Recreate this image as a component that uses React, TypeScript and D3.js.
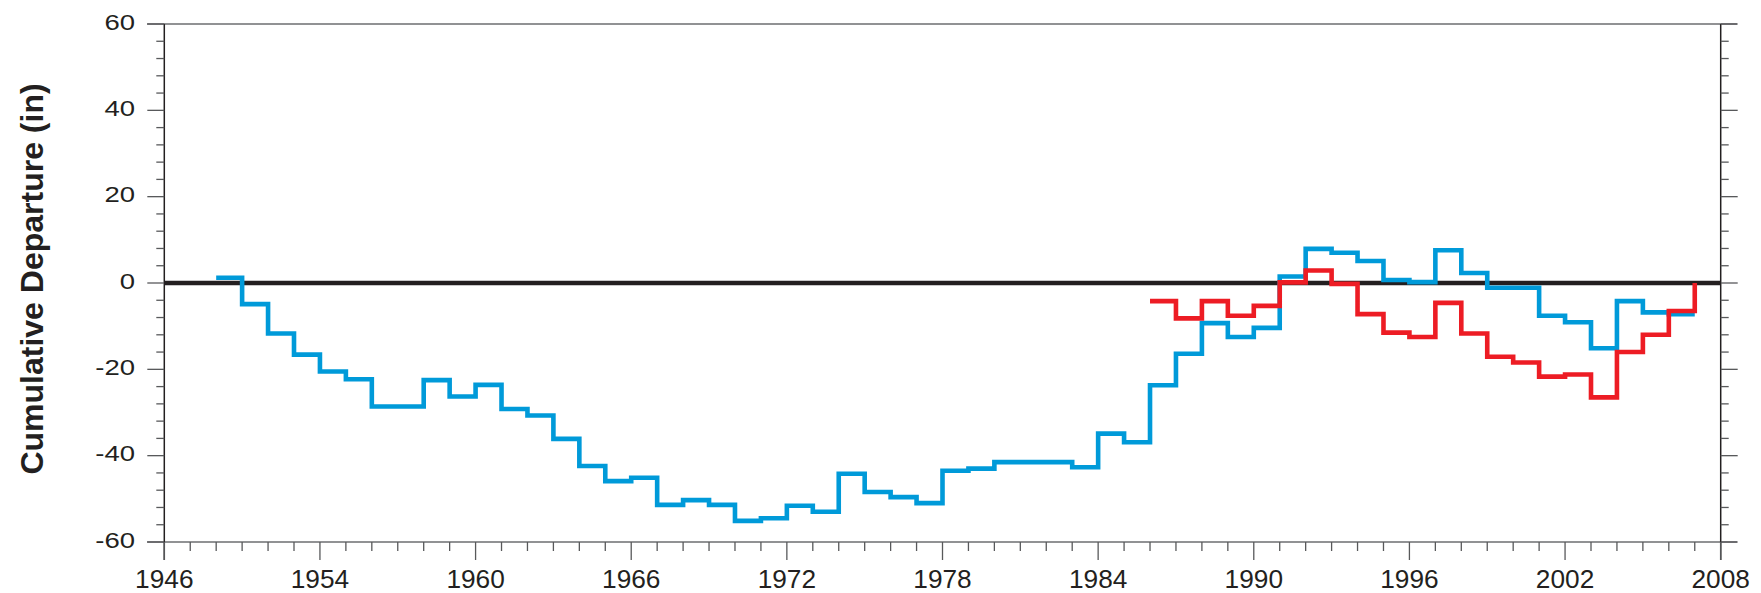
import React from 'react';
import * as d3 from 'd3';

// cumulative departure, one value per year (step lasts the whole year)
const blueStart = 1950;
const blueValues = [
  1.2, -4.9, -11.7, -16.6, -20.5, -22.3, -28.6, -28.6, -22.5, -26.3,
  -23.6, -29.2, -30.7, -36.1, -42.4, -45.9, -45.1, -51.4, -50.3, -51.4,
  -55.1, -54.5, -51.6, -53.0, -44.2, -48.4, -49.6, -51.0, -43.5, -43.0,
  -41.5, -41.5, -41.5, -42.7, -34.9, -36.9, -23.7, -16.4, -9.3, -12.5,
  -10.4, 1.5, 7.9, 7.0, 5.1, 0.7, 0.2, 7.6, 2.3, -1.1,
  -1.1, -7.6, -9.1, -15.1, -4.2, -6.8, -7.2,
];

const redStart = 1986;
const redValues = [
  -4.2, -8.2, -4.2, -7.6, -5.3, 0.15, 2.9, -0.2, -7.2, -11.5,
  -12.5, -4.6, -11.7, -17.1, -18.4, -21.7, -21.2, -26.5, -16.0, -12.0,
  -6.5,
];
const redEnd = 0; // closing riser at the end of the record

const xTickValues = [1948, 1954, 1960, 1966, 1972, 1978, 1984, 1990, 1996, 2002, 2008];
const xTickLabels = ['1946', '1954', '1960', '1966', '1972', '1978', '1984', '1990', '1996', '2002', '2008'];
const yTickValues = [-60, -40, -20, 0, 20, 40, 60];

const width = 1761;
const height = 593;
const left = 164.3, right = 1720.7, top = 24, bottom = 542;
const ink = '#231f20';
const font = '"Liberation Sans", Arial, Helvetica, sans-serif';

export default function App() {
  const x = d3.scaleLinear().domain([1948, 2008]).range([left, right]);
  const y = d3.scaleLinear().domain([-60, 60]).range([bottom, top]);

  const step = d3.line<[number, number]>()
    .x(d => x(d[0]))
    .y(d => y(d[1]))
    .curve(d3.curveStepAfter);

  const bluePts: [number, number][] = blueValues.map((v, i) => [blueStart + i, v]);
  bluePts.push([blueStart + blueValues.length, blueValues[blueValues.length - 1]]);
  const redPts: [number, number][] = redValues.map((v, i) => [redStart + i, v]);
  redPts.push([redStart + redValues.length, redEnd]);

  const xMinor = d3.range(1948, 2009);
  const yMinor = d3.range(-60, 61, 4);

  return (
    <svg width={width} height={height} style={{ position: 'absolute', left: 0, top: 0, background: '#fff' }}>
      {/* frame */}
      <line x1={147} x2={1737} y1={top} y2={top} stroke="#6d6e71" strokeWidth={1.5} />
      <line x1={147} x2={1737} y1={bottom} y2={bottom} stroke="#6d6e71" strokeWidth={1.5} />
      <line x1={left} x2={left} y1={top} y2={560} stroke={ink} strokeWidth={1.5} />
      <line x1={right} x2={right} y1={top} y2={560} stroke={ink} strokeWidth={1.5} />

      {/* y ticks, both sides */}
      {yMinor.map(v => {
        const major = v % 20 === 0;
        const len = major ? 17 : 8;
        return (
          <g key={'y' + v} stroke="#58595b" strokeWidth={1.3}>
            <line x1={left - len} x2={left} y1={y(v)} y2={y(v)} />
            <line x1={right} x2={right + len} y1={y(v)} y2={y(v)} />
          </g>
        );
      })}
      {yTickValues.map(v => (
        <text key={'yl' + v} transform={`translate(135,${y(v) + 5.5}) scale(1.25,1)`}
          textAnchor="end" fontFamily={font} fontSize={22} fill={ink}>{v}</text>
      ))}

      {/* x ticks */}
      {xMinor.map(yr => {
        const major = (yr - 1948) % 6 === 0;
        return (
          <line key={'x' + yr} x1={x(yr)} x2={x(yr)} y1={bottom} y2={bottom + (major ? 18 : 9)}
            stroke="#58595b" strokeWidth={1.3} />
        );
      })}
      {xTickValues.map((yr, i) => (
        <text key={'xl' + yr} transform={`translate(${x(yr)},587.5) scale(1.05,1)`}
          textAnchor="middle" fontFamily={font} fontSize={25} fill={ink}>{xTickLabels[i]}</text>
      ))}

      {/* axis title */}
      <text transform="translate(43,279) rotate(-90)" textAnchor="middle"
        fontFamily={font} fontWeight="bold" fontSize={32} fill={ink}>Cumulative Departure (in)</text>

      {/* zero line */}
      <line x1={left} x2={right} y1={y(0)} y2={y(0)} stroke={ink} strokeWidth={4.6} />

      <path d={step(bluePts) || ''} fill="none" stroke="#009ad9" strokeWidth={4.6} strokeLinejoin="miter" />
      <path d={step(redPts) || ''} fill="none" stroke="#ed1c24" strokeWidth={4.6} strokeLinejoin="miter" />
    </svg>
  );
}
